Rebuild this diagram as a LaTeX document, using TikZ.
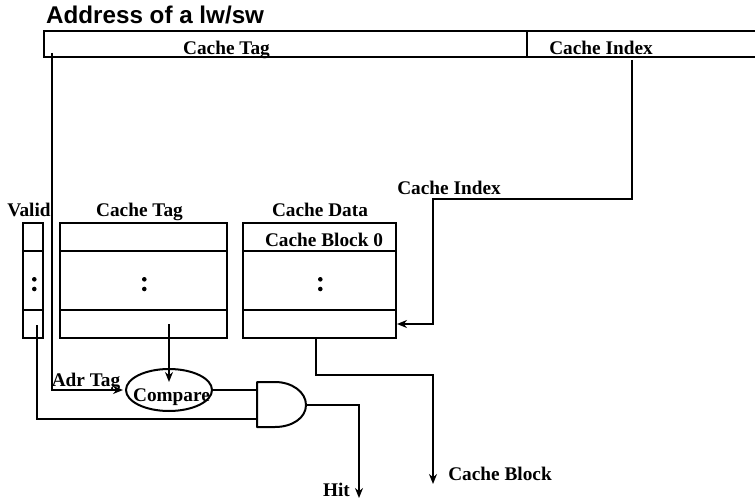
\documentclass[tikz,border=0pt]{standalone}
\usepackage{fontspec}
\setmainfont{Liberation Serif}
\newfontfamily\titlefont{Liberation Sans}
\usetikzlibrary{arrows.meta,shapes.geometric}
\tikzset{
 x=1pt,y=-1pt,
 wire/.style={line width=2pt,line join=miter},
 arr/.style={wire,-{Stealth[length=10pt,width=8pt]}},
 lbl/.style={font=\bfseries\fontsize{19.3}{19.3}\selectfont,inner sep=0pt,anchor=base},
 box/.style={draw,line width=2pt,inner sep=0pt,outer sep=0pt,anchor=north west},
 dotmark/.style={circle,fill,inner sep=0pt,minimum size=4.6pt}
}
\begin{document}
\begin{tikzpicture}
\useasboundingbox (0,0) rectangle (755,500);
\node[inner sep=0pt,anchor=base west,font=\titlefont\bfseries\fontsize{24.2}{24.2}\selectfont] (title) at (46,23.8) {Address of a lw/sw};
% address bar
\node[box,minimum width=483pt,minimum height=26.5pt] (tagf) at (44,31) {};
\draw[wire] (tagf.north east) -- (755,31);
\draw[wire] (tagf.south east) -- (755,57.5);
\node[lbl] (tagl) at (226.5,54.5) {Cache Tag};
\node[lbl] (idxl) at (601,55) {Cache Index};
% arrays
\node[box,minimum width=20pt,minimum height=114.5pt] (valid) at (23,223) {};
\node[box,minimum width=20pt,minimum height=58.5pt] (validm) at (23,251) {};
\node[box,minimum width=166.5pt,minimum height=114.5pt] (tags) at (60,223) {};
\node[box,minimum width=166.5pt,minimum height=58.5pt] (tagsm) at (60,251) {};
\node[box,minimum width=153pt,minimum height=114.5pt] (data) at (242.7,223) {};
\node[box,minimum width=153pt,minimum height=58.5pt] (datam) at (242.7,251) {};
\node[lbl] (lv) at (29,216.5) {Valid};
\node[lbl] (lt) at (139.5,216.5) {Cache Tag};
\node[lbl] (ld) at (320,216.5) {Cache Data};
\node[lbl] (lb) at (324,246.5) {Cache Block 0};
\foreach \n/\x in {a/34.3,b/144.3,c/320.3}{
 \node[dotmark] (d\n1) at (\x,279.3) {};
 \node[dotmark] (d\n2) at (\x,289) {};
}
% compare
\node[draw,ellipse,line width=2pt,outer sep=0pt,minimum width=86pt,minimum height=42pt,inner sep=0pt] (cmp) at (169,390) {};
\node[lbl] (lc) at (171.5,401) {Compare};
\node[lbl] (la) at (86,386) {Adr Tag};
% and gate
\coordinate (g1) at (257,382);
\coordinate (g2) at (257,427);
\coordinate (gout) at (306,405);
\draw[wire,line join=round] (g1) -- (275,382) .. controls (292,382) and (306,392) .. (gout) .. controls (306,418) and (292,427) .. (275,427) -- (g2) -- cycle;
% wires
\coordinate (ts) at (51.5,53);
\coordinate (tc) at (51.5,390);
\draw[arr] (ts) -- (tc) -- (123,390);
\coordinate (vs) at (37,325);
\draw[wire] (vs) -- (37,419) -- (257,419);
\coordinate (cs) at (169,324);
\draw[arr] (cs) -- (169,382);
\draw[wire] (cmp.east) -- (257,390);
\coordinate (hit) at (359,498);
\draw[arr] (gout) -- (359,405) -- (hit);
\node[lbl] (lh) at (336.5,496) {Hit};
\coordinate (ds) at (316,337);
\coordinate (de) at (433,484);
\draw[arr] (ds) -- (316,375) -- (433,375) -- (de);
\node[lbl] (lcb) at (500,480) {Cache Block};
\coordinate (is) at (631.5,60);
\coordinate (ie) at (397,324);
\draw[arr] (is) -- (631.5,199) -- (433,199) -- (433,324) -- (ie);
\node[lbl] (lci) at (449,194.3) {Cache Index};
\end{tikzpicture}
\end{document}
